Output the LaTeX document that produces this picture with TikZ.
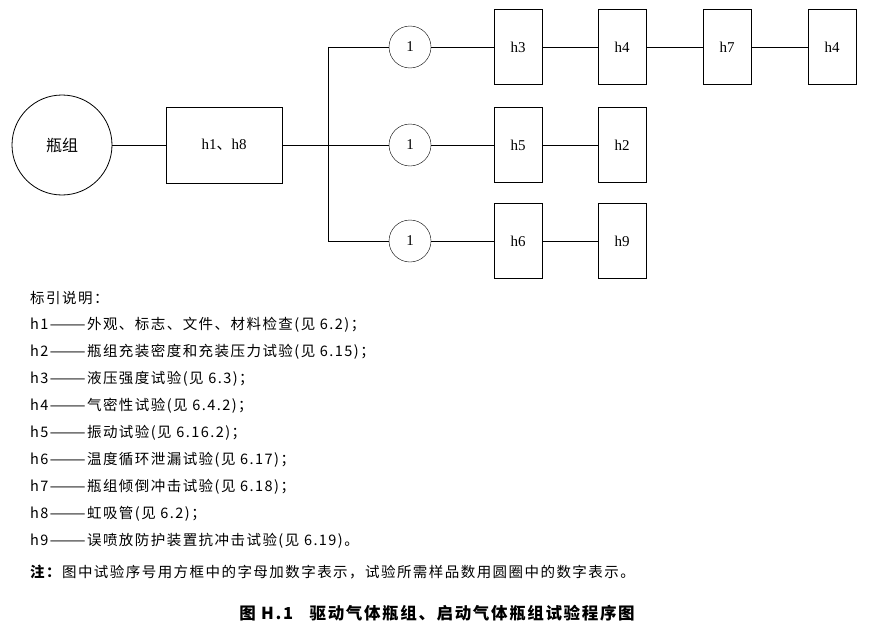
\documentclass[tikz,border=0pt]{standalone}
\usepackage{fontspec}
\setmainfont{Liberation Serif}
\newfontfamily\cjk{Noto Sans CJK SC}
\newfontfamily\cjkwide[LetterSpace=10]{Noto Sans CJK SC}
\usetikzlibrary{positioning}
\begin{document}
\begin{tikzpicture}[x=1pt,y=-1pt,
		test/.style={rectangle,draw=black,minimum width=48pt,minimum height=75pt,inner sep=0pt,font=\fontsize{15}{17}\selectfont},
		cnt/.style={circle,draw=black,minimum size=42pt,inner sep=0pt,font=\fontsize{15}{17}\selectfont},
		note/.style={anchor=west,inner sep=0pt,font=\cjkwide\fontsize{14.5}{16}\selectfont}]
		\useasboundingbox (0,0) rectangle (870,634);
		\node[circle,draw=black,line width=0.8pt,minimum size=100pt,inner sep=0pt,font=\cjk\fontsize{16}{18}\selectfont] (bottle) at (62,145) {瓶组};
		\node[test,minimum width=116pt,minimum height=76pt] (h18) at (224,145) {h1{\cjk 、}h8};
		\coordinate (top) at (328,47);
		\coordinate (bot) at (328,241);
		\coordinate (mid) at (328,145);
		
		\node[cnt] (c1) at (410,47) {1};
		\node[cnt] (c2) at (410,145) {1};
		\node[cnt] (c3) at (410,241) {1};
		
		\node[test] (h3)  at (518,47) {h3};
		\node[test] (h4)  at (622,47) {h4};
		\node[test] (h7)  at (727,47) {h7};
		\node[test] (h4b) at (832,47) {h4};
		\node[test] (h5)  at (518,145) {h5};
		\node[test] (h2)  at (622,145) {h2};
		\node[test] (h6)  at (518,241) {h6};
		\node[test] (h9)  at (622,241) {h9};
		
		\draw (bottle) -- (h18) -- (mid);
		\draw (top) -- (bot);
		\draw (top) -- (c1) -- (h3) -- (h4) -- (h7) -- (h4b);
		\draw (mid) -- (c2) -- (h5) -- (h2);
		\draw (bot) -- (c3) -- (h6) -- (h9);
		
		% legend
		\foreach \t [count=\i] in {标引说明：,
			h1———外观、标志、文件、材料检查(见 6.2)；,
			h2———瓶组充装密度和充装压力试验(见 6.15)；,
			h3———液压强度试验(见 6.3)；,
			h4———气密性试验(见 6.4.2)；,
			h5———振动试验(见 6.16.2)；,
			h6———温度循环泄漏试验(见 6.17)；,
			h7———瓶组倾倒冲击试验(见 6.18)；,
			h8———虹吸管(见 6.2)；,
			h9———误喷放防护装置抗冲击试验(见 6.19)。}
			\node[note] (l\i) at (30,{271+27*\i}) {\t};
		\node[note] (remark) at (30,572) {\textbf{注：}图中试验序号用方框中的字母加数字表示，试验所需样品数用圆圈中的数字表示。};
		\node[font=\cjkwide\bfseries\fontsize{16.5}{18}\selectfont] (caption) at (437,613) {图\ H.1\quad 驱动气体瓶组、启动气体瓶组试验程序图};
\end{tikzpicture}
\end{document}
